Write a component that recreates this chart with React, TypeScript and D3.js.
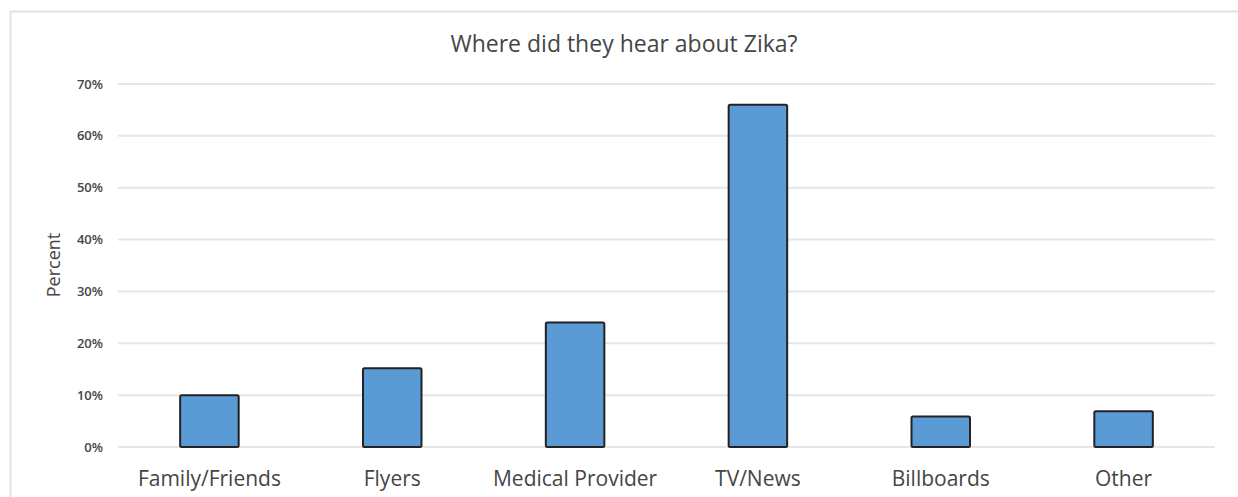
import React from "react";
import * as d3 from "d3";

const categories = ["Family/Friends", "Flyers", "Medical Provider", "TV/News", "Billboards", "Other"];
const percents = [10, 15.2, 24, 66, 5.9, 6.9];
const yTicks = [0, 10, 20, 30, 40, 50, 60, 70];

const W = 1238;
const H = 497;
const FONT = "'Open Sans', sans-serif";
const TEXT = "#454545";

export default function App() {
  const x = d3.scaleBand<string>().domain(categories).range([118, 1215]).paddingInner(0.68).paddingOuter(0.34);
  const y = d3.scaleLinear().domain([0, 70]).range([447, 84]);

  return (
    <svg width={W} height={H} style={{ position: "absolute", left: 0, top: 0, background: "#fff" }}>
      {/* chart frame */}
      <path d={`M10.5,${H} V11.5 H${W}`} fill="none" stroke="#e3e3e3" strokeWidth={2} />

      <text x={624} y={52} textAnchor="middle" fontFamily={FONT} fontSize={23} fill={TEXT}>
        Where did they hear about Zika?
      </text>

      {yTicks.map((t) => (
        <g key={t}>
          <line x1={118} x2={1215} y1={y(t)} y2={y(t)} stroke="#e6e6e6" strokeWidth={2} />
          <text x={103} y={y(t)} dy="0.35em" textAnchor="end" fontFamily={FONT} fontSize={13} fontWeight={600} fill={TEXT}>
            {d3.format(".0%")(t / 100)}
          </text>
        </g>
      ))}

      <text
        transform={`translate(60,265) rotate(-90)`}
        textAnchor="middle"
        fontFamily={FONT}
        fontSize={18}
        fill={TEXT}
      >
        Percent
      </text>

      {categories.map((c, i) => (
        <rect
          key={c}
          x={x(c)!}
          y={y(percents[i])}
          width={x.bandwidth()}
          height={y(0) - y(percents[i])}
          fill="#5b9bd5"
          stroke="#222"
          strokeWidth={2}
          rx={1.5}
        />
      ))}

      {categories.map((c) => (
        <text
          key={c}
          x={x(c)! + x.bandwidth() / 2}
          y={486}
          textAnchor="middle"
          fontFamily={FONT}
          fontSize={21}
          fill={TEXT}
        >
          {c}
        </text>
      ))}
    </svg>
  );
}
